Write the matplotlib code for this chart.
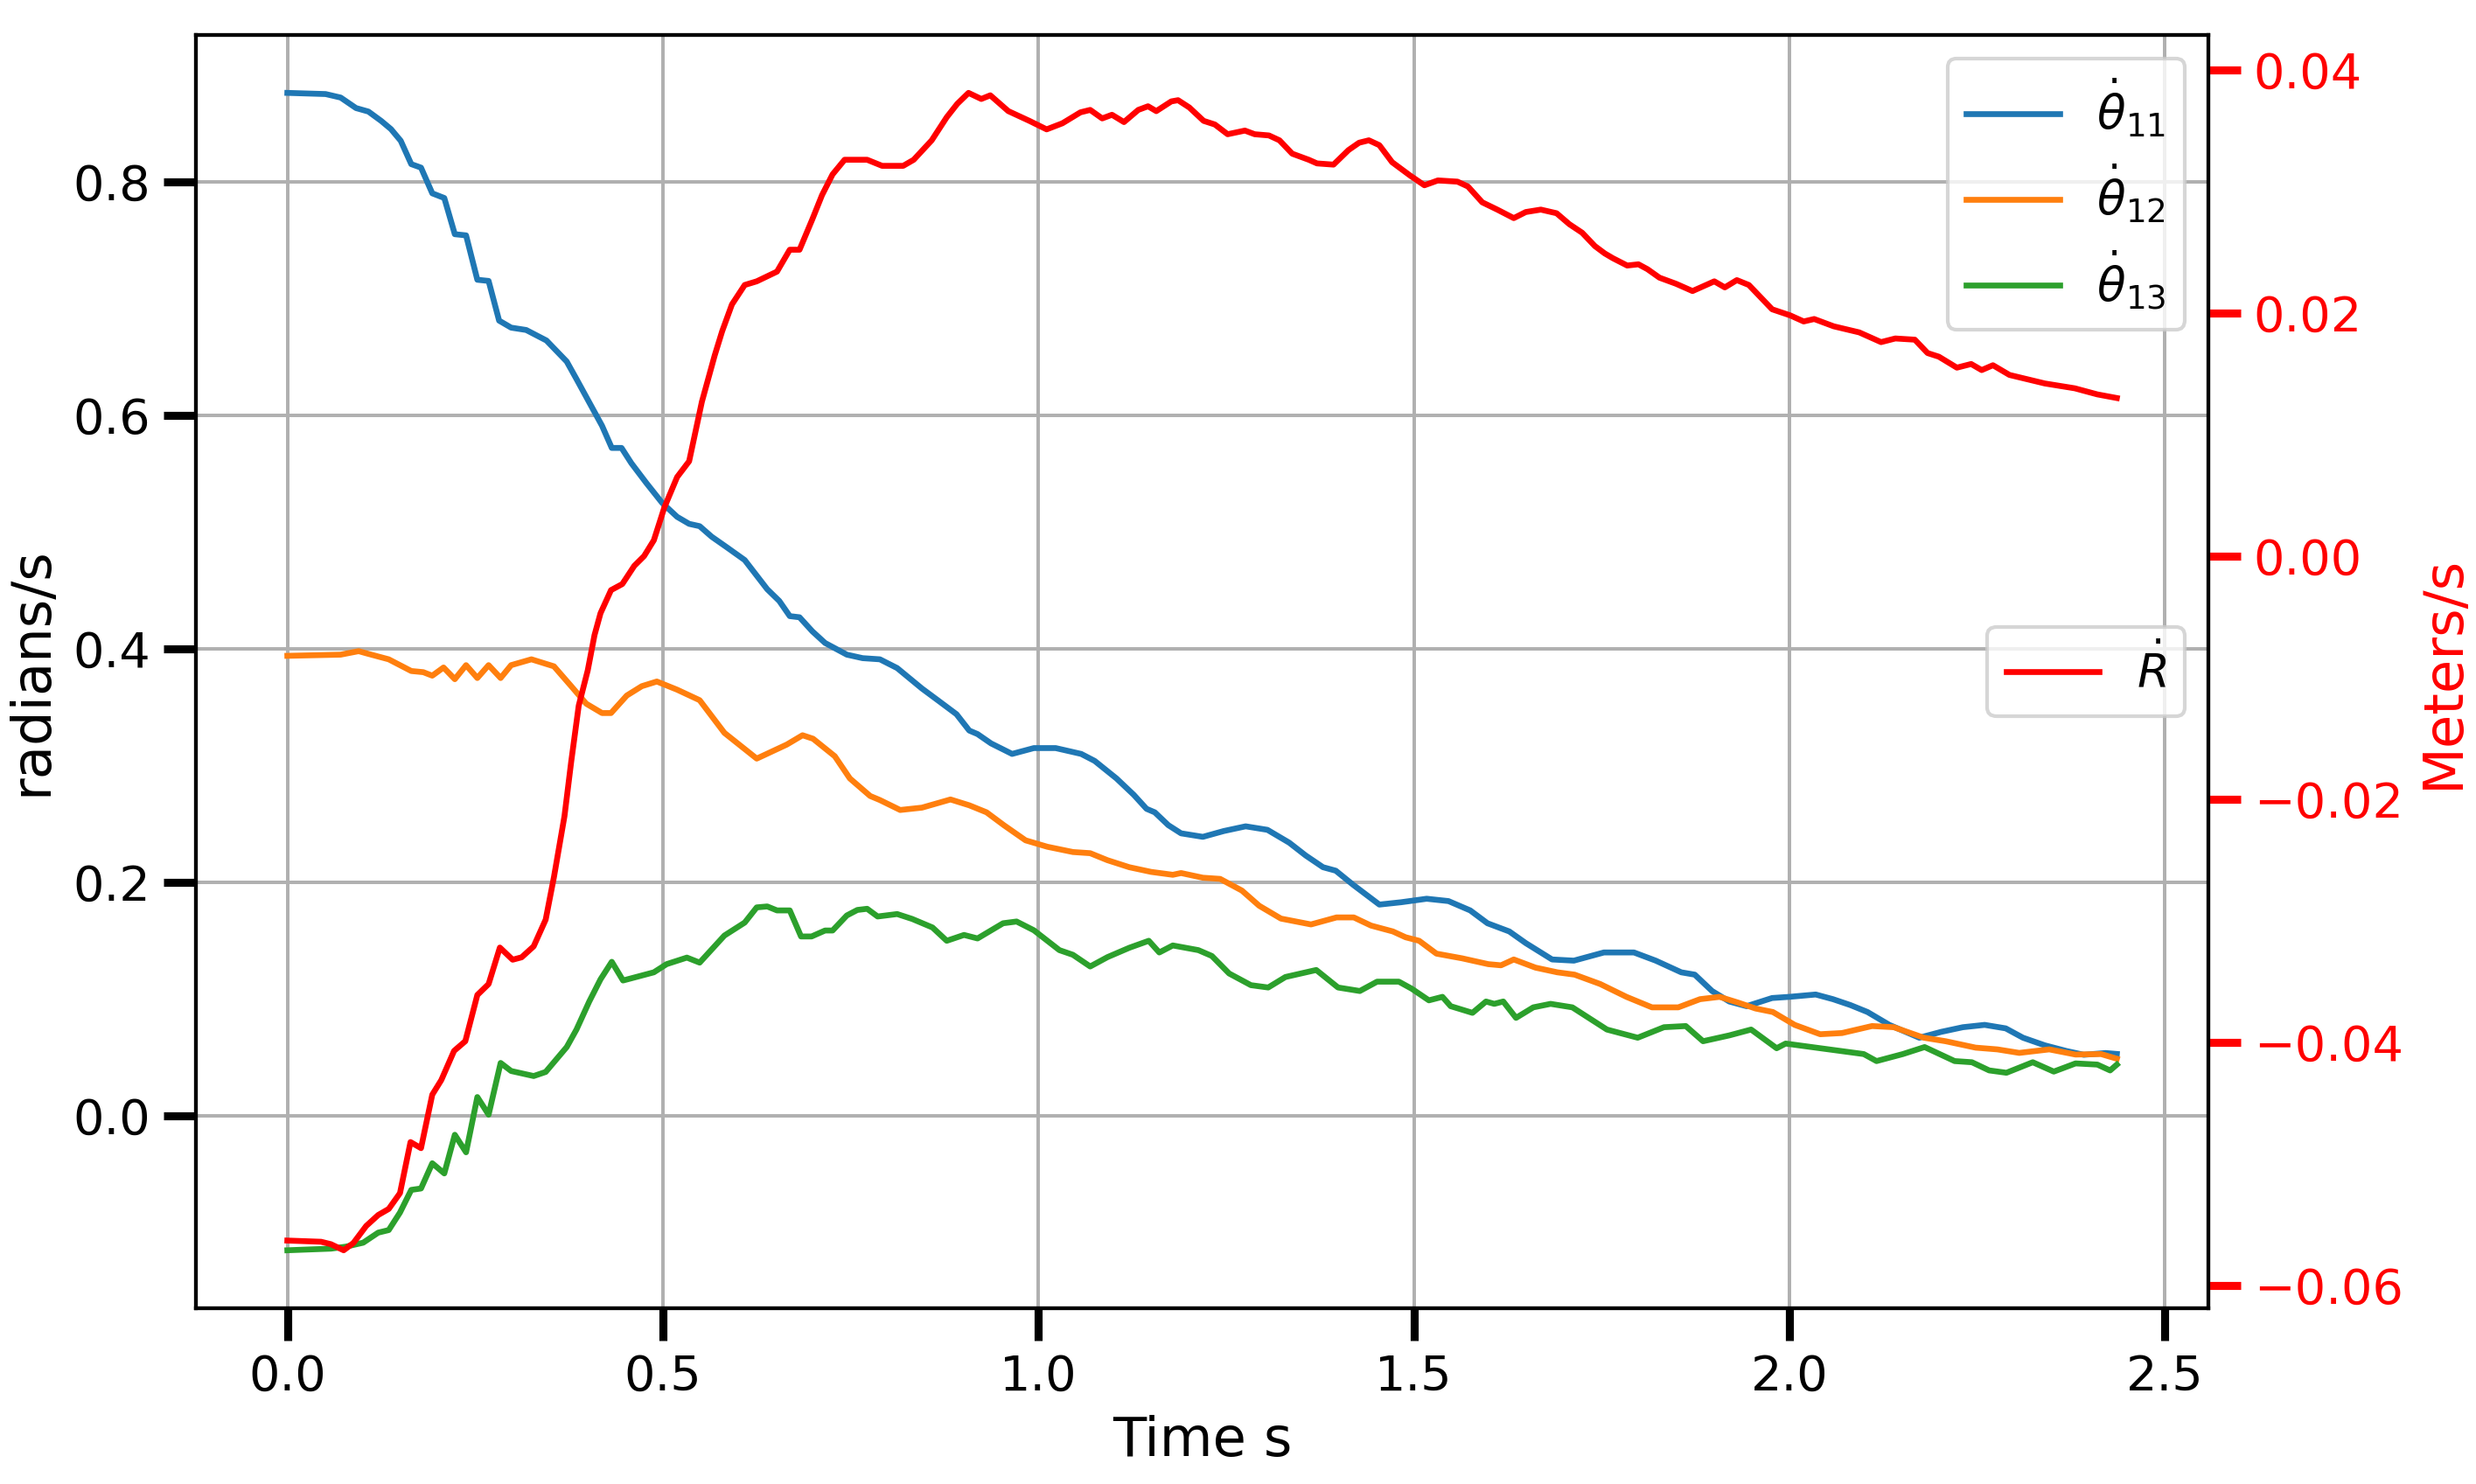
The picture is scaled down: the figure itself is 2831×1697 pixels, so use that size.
import matplotlib
matplotlib.use("Agg")
import matplotlib.pyplot as plt

# joint angular velocities (radians/s)
t11 = [0.000, 0.051, 0.071, 0.0915, 0.108, 0.125, 0.138, 0.151, 0.165, 0.178,
       0.193, 0.209, 0.223, 0.238, 0.253, 0.268, 0.282, 0.298, 0.318, 0.345,
       0.372, 0.385, 0.402, 0.419, 0.432, 0.445, 0.458, 0.478, 0.499, 0.519,
       0.535, 0.549, 0.565, 0.585, 0.609, 0.639, 0.655, 0.669, 0.682, 0.699,
       0.716, 0.745, 0.766, 0.789, 0.812, 0.845, 0.866, 0.891, 0.908, 0.919,
       0.937, 0.965, 0.994, 1.023, 1.057, 1.075, 1.104, 1.127, 1.144, 1.155,
       1.173, 1.190, 1.219, 1.247, 1.276, 1.305, 1.334, 1.356, 1.379, 1.396,
       1.419, 1.454, 1.483, 1.517, 1.546, 1.575, 1.598, 1.627, 1.649, 1.684,
       1.713, 1.753, 1.793, 1.822, 1.856, 1.874, 1.897, 1.920, 1.943, 1.977,
       2.000, 2.035, 2.058, 2.081, 2.104, 2.133, 2.173, 2.202, 2.231, 2.260,
       2.288, 2.311, 2.340, 2.369, 2.392, 2.421, 2.436]
theta11 = [0.876, 0.875, 0.872, 0.863, 0.860, 0.852, 0.845, 0.835, 0.815, 0.812,
           0.790, 0.786, 0.755, 0.754, 0.716, 0.715, 0.681, 0.675, 0.673, 0.664,
           0.646, 0.631, 0.611, 0.591, 0.572, 0.572, 0.559, 0.542, 0.525, 0.513,
           0.507, 0.505, 0.496, 0.487, 0.476, 0.451, 0.441, 0.428, 0.427, 0.415,
           0.405, 0.395, 0.392, 0.391, 0.3835, 0.366, 0.356, 0.344, 0.330, 0.327,
           0.319, 0.310, 0.315, 0.315, 0.310, 0.304, 0.289, 0.275, 0.263, 0.260,
           0.249, 0.242, 0.239, 0.244, 0.248, 0.245, 0.234, 0.223, 0.213, 0.210,
           0.198, 0.181, 0.183, 0.186, 0.184, 0.176, 0.165, 0.158, 0.148, 0.134,
           0.133, 0.140, 0.140, 0.133, 0.123, 0.121, 0.107, 0.098, 0.094, 0.101,
           0.102, 0.104, 0.100, 0.095, 0.089, 0.078, 0.067, 0.072, 0.076, 0.078,
           0.075, 0.067, 0.0605, 0.0556, 0.0524, 0.0539, 0.0531]

t12 = [0.000, 0.071, 0.095, 0.106, 0.135, 0.165, 0.181, 0.193, 0.208, 0.223,
       0.238, 0.253, 0.268, 0.284, 0.298, 0.325, 0.355, 0.378, 0.398, 0.419,
       0.431, 0.452, 0.472, 0.492, 0.519, 0.549, 0.582, 0.625, 0.665, 0.686,
       0.700, 0.729, 0.749, 0.776, 0.789, 0.816, 0.845, 0.883, 0.908, 0.931,
       0.954, 0.983, 1.012, 1.046, 1.069, 1.092, 1.121, 1.150, 1.179, 1.190,
       1.219, 1.242, 1.271, 1.294, 1.323, 1.363, 1.397, 1.420, 1.443, 1.472,
       1.489, 1.507, 1.530, 1.564, 1.599, 1.616, 1.633, 1.662, 1.691, 1.714,
       1.748, 1.783, 1.817, 1.852, 1.881, 1.907, 1.932, 1.955, 1.978, 2.007,
       2.041, 2.070, 2.110, 2.139, 2.179, 2.208, 2.248, 2.277, 2.306, 2.346,
       2.381, 2.415, 2.436]
theta12 = [0.394, 0.395, 0.398, 0.396, 0.391, 0.381, 0.380, 0.377, 0.384, 0.374,
           0.386, 0.375, 0.386, 0.375, 0.386, 0.391, 0.385, 0.368, 0.353, 0.345,
           0.345, 0.360, 0.368, 0.372, 0.365, 0.356, 0.328, 0.306, 0.318, 0.326,
           0.323, 0.308, 0.289, 0.274, 0.2705, 0.262, 0.264, 0.271, 0.266, 0.260,
           0.249, 0.236, 0.2305, 0.226, 0.225, 0.219, 0.213, 0.209, 0.2065, 0.208,
           0.204, 0.203, 0.193, 0.180, 0.169, 0.164, 0.170, 0.170, 0.163, 0.158,
           0.153, 0.150, 0.139, 0.135, 0.130, 0.129, 0.134, 0.127, 0.123, 0.121,
           0.113, 0.102, 0.093, 0.093, 0.100, 0.102, 0.097, 0.092, 0.089, 0.078,
           0.070, 0.071, 0.077, 0.076, 0.067, 0.064, 0.0585, 0.057, 0.054, 0.057,
           0.0526, 0.053, 0.049]

t13 = [0.000, 0.058, 0.078, 0.101, 0.121, 0.135, 0.150, 0.165, 0.178, 0.193,
       0.209, 0.223, 0.238, 0.253, 0.268, 0.284, 0.298, 0.328, 0.344, 0.372,
       0.385, 0.402, 0.417, 0.432, 0.447, 0.488, 0.505, 0.532, 0.549, 0.582,
       0.609, 0.625, 0.639, 0.652, 0.669, 0.684, 0.698, 0.716, 0.726, 0.745,
       0.759, 0.772, 0.786, 0.812, 0.832, 0.859, 0.878, 0.901, 0.919, 0.953,
       0.971, 0.994, 1.028, 1.046, 1.069, 1.092, 1.121, 1.147, 1.161, 1.179,
       1.213, 1.231, 1.254, 1.283, 1.306, 1.329, 1.370, 1.399, 1.428, 1.451,
       1.480, 1.497, 1.520, 1.538, 1.549, 1.578, 1.596, 1.607, 1.619, 1.636,
       1.659, 1.682, 1.711, 1.757, 1.798, 1.833, 1.862, 1.885, 1.920, 1.949,
       1.983, 1.995, 2.041, 2.099, 2.116, 2.151, 2.180, 2.220, 2.243, 2.266,
       2.289, 2.324, 2.352, 2.381, 2.410, 2.427, 2.436]
theta13 = [-0.115, -0.1136, -0.1119, -0.1085, -0.0999, -0.0977, -0.0827, -0.0633, -0.0621, -0.0405,
           -0.0492, -0.0161, -0.0311, 0.0162, 0.0011, 0.0454, 0.0385, 0.0342, 0.0377, 0.059,
           0.074, 0.098, 0.117, 0.132, 0.116, 0.123, 0.130, 0.1356, 0.1313, 0.1545,
           0.1656, 0.1786, 0.1794, 0.176, 0.176, 0.1537, 0.1537, 0.1588, 0.1588, 0.1717,
           0.1764, 0.1774, 0.1708, 0.1729, 0.1687, 0.1614, 0.150, 0.155, 0.152, 0.165,
           0.1665, 0.159, 0.142, 0.138, 0.128, 0.136, 0.144, 0.150, 0.140, 0.146,
           0.142, 0.137, 0.122, 0.112, 0.110, 0.119, 0.125, 0.110, 0.107, 0.115,
           0.115, 0.109, 0.099, 0.102, 0.094, 0.0883, 0.098, 0.096, 0.098, 0.084,
           0.093, 0.096, 0.093, 0.074, 0.067, 0.076, 0.077, 0.064, 0.069, 0.074,
           0.058, 0.062, 0.058, 0.053, 0.047, 0.053, 0.059, 0.047, 0.046, 0.039,
           0.037, 0.046, 0.038, 0.045, 0.044, 0.039, 0.044]

# radial velocity (Meters/s)
tR = [0.000, 0.045, 0.058, 0.075, 0.088, 0.105, 0.121, 0.135, 0.150, 0.164,
      0.178, 0.193, 0.205, 0.222, 0.237, 0.253, 0.268, 0.283, 0.300, 0.312,
      0.328, 0.344, 0.355, 0.369, 0.378, 0.388, 0.400, 0.409, 0.417, 0.431,
      0.446, 0.462, 0.475, 0.488, 0.502, 0.519, 0.535, 0.552, 0.569, 0.579,
      0.592, 0.609, 0.625, 0.652, 0.669, 0.682, 0.699, 0.712, 0.726, 0.742,
      0.772, 0.792, 0.820, 0.834, 0.858, 0.878, 0.892, 0.907, 0.924, 0.936,
      0.960, 0.988, 1.011, 1.032, 1.056, 1.069, 1.085, 1.098, 1.114, 1.133,
      1.146, 1.157, 1.177, 1.186, 1.201, 1.220, 1.235, 1.252, 1.275, 1.288,
      1.307, 1.321, 1.338, 1.360, 1.371, 1.393, 1.413, 1.427, 1.440, 1.454,
      1.471, 1.495, 1.514, 1.532, 1.558, 1.572, 1.591, 1.611, 1.633, 1.649,
      1.669, 1.690, 1.707, 1.724, 1.741, 1.754, 1.765, 1.784, 1.799, 1.811,
      1.827, 1.849, 1.871, 1.900, 1.914, 1.930, 1.946, 1.977, 2.001, 2.019,
      2.033, 2.059, 2.093, 2.122, 2.141, 2.167, 2.184, 2.199, 2.223, 2.242,
      2.256, 2.271, 2.293, 2.340, 2.380, 2.410, 2.436]
R_dot = [-0.0563, -0.0564, -0.0566, -0.0571, -0.0565, -0.0551, -0.0542, -0.0537, -0.0524, -0.0482,
         -0.0487, -0.0443, -0.0431, -0.0407, -0.0399, -0.0361, -0.0352, -0.0322, -0.0332, -0.0330,
         -0.0321, -0.0299, -0.0264, -0.0214, -0.0169, -0.0123, -0.0094, -0.0065, -0.0047, -0.0028,
         -0.0023, -0.0008, 0.0000, 0.0013, 0.0040, 0.0065, 0.0078, 0.0127, 0.0165, 0.0185,
         0.0207, 0.0223, 0.0226, 0.0234, 0.0252, 0.0252, 0.0277, 0.0297, 0.0314, 0.0326,
         0.0326, 0.0321, 0.0321, 0.0326, 0.0342, 0.0361, 0.0372, 0.0381, 0.0376, 0.0379,
         0.0366, 0.0358, 0.0351, 0.0356, 0.0365, 0.0367, 0.0360, 0.0363, 0.0357, 0.0367,
         0.0370, 0.0366, 0.0374, 0.0375, 0.0369, 0.0358, 0.0355, 0.0347, 0.0350, 0.0347,
         0.0346, 0.0342, 0.0331, 0.0326, 0.0323, 0.0322, 0.0334, 0.0340, 0.0342, 0.0338,
         0.0324, 0.0313, 0.0305, 0.0309, 0.0308, 0.0304, 0.0291, 0.0285, 0.0278, 0.0283,
         0.0285, 0.0282, 0.0273, 0.0266, 0.0255, 0.0249, 0.0245, 0.0239, 0.0240, 0.0236,
         0.0229, 0.0224, 0.0218, 0.0226, 0.0221, 0.0227, 0.0223, 0.0203, 0.0198, 0.0193,
         0.0195, 0.0189, 0.0184, 0.0176, 0.0179, 0.0178, 0.0167, 0.0164, 0.0155, 0.0158,
         0.0153, 0.0157, 0.0149, 0.0142, 0.0138, 0.0133, 0.0130]

plt.rcParams["axes.linewidth"] = 1.0
plt.rcParams["lines.linewidth"] = 1.6

fig, ax1 = plt.subplots(figsize=(2831 / 300, 1697 / 300), dpi=300)
fig.subplots_adjust(left=0.0791, right=0.8919, top=0.9764, bottom=0.1185)

ax1.plot(t11, theta11, color="#1f77b4", label=r"$\dot{\theta}_{11}$")
ax1.plot(t12, theta12, color="#ff7f0e", label=r"$\dot{\theta}_{12}$")
ax1.plot(t13, theta13, color="#2ca02c", label=r"$\dot{\theta}_{13}$")
ax1.set_xlabel("Time s", fontsize=15)
ax1.set_ylabel("radians/s", fontsize=15)
ax1.tick_params(length=8.9, width=2.2, labelsize=13.4)
ax1.grid(True, color="#b0b0b0", linewidth=0.95)
ax1.legend(loc="upper right", fontsize=12.8)

ax2 = ax1.twinx()
ax2.plot(tR, R_dot, color="red", label=r"$\dot{R}$")
ax2.set_ylabel("Meters/s", color="red", fontsize=15)
ax2.tick_params(axis="y", colors="red", length=8.9, width=2.2, labelsize=13.4)
ax2.legend(loc="center right", fontsize=12.8)

fig.savefig("out.png", dpi=300)
